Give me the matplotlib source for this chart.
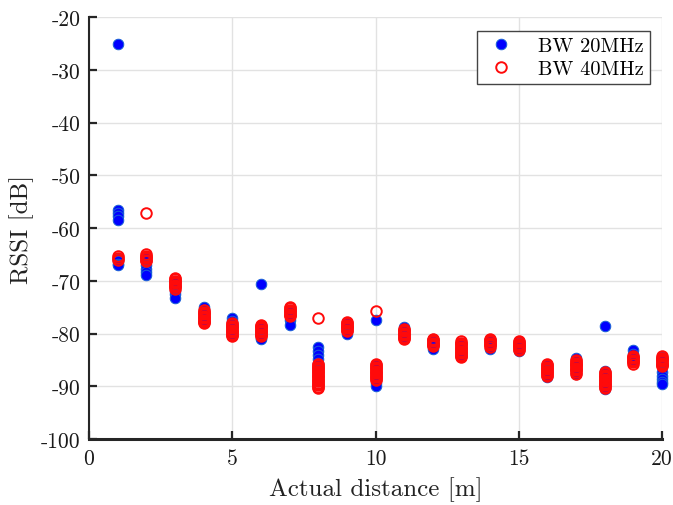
import matplotlib
matplotlib.use("Agg")
import matplotlib.pyplot as plt
import numpy as np

# measured RSSI per distance, 20 MHz bandwidth
distances = [1, 2, 3, 4, 5, 6, 7, 8, 9, 10, 11, 12, 13, 14, 15, 16, 17, 18, 19, 20]
rssi_20 = [
    [-25.2, -56.5, -57.2, -57.8, -58.5, -65.8, -66.3, -66.8, -67.0],
    [-65.5, -66.3, -67.0, -67.7, -68.3, -69.0],
    [-70.0, -71.0, -72.0, -72.6, -73.2],
    [-75.0, -75.5, -76.2, -77.0, -77.8],
    [-77.0, -77.6, -78.5, -79.5, -80.2],
    [-70.6, -78.8, -79.5, -80.2, -80.8, -81.1],
    [-75.5, -76.5, -77.5, -78.3],
    [-82.6, -83.3, -84.0, -84.8, -85.5, -86.3, -87.0, -88.0, -89.0],
    [-78.0, -78.8, -79.5, -80.1],
    [-77.4, -86.0, -87.5, -88.5, -89.3, -89.9],
    [-78.7, -79.3, -80.0, -80.6],
    [-81.0, -81.8, -82.4, -82.9],
    [-81.8, -82.8, -83.8, -84.3],
    [-81.5, -82.2, -83.0],
    [-81.8, -82.6, -83.4],
    [-86.0, -87.0, -88.2],
    [-84.6, -85.8, -87.0, -87.7],
    [-78.6, -87.2, -88.3, -89.5, -90.5],
    [-83.2, -83.8, -84.5, -85.2],
    [-84.5, -86.0, -87.3, -88.0, -88.6, -89.2, -89.6],
]

# measured RSSI per distance, 40 MHz bandwidth
rssi_40 = [
    [-65.4, -65.7, -66.0],
    [-57.1, -65.0, -65.25, -65.5, -65.75, -66.0, -66.25],
    [-69.5, -69.75, -70.0, -70.25, -70.5, -70.75, -71.0, -71.25, -71.5],
    [-75.6, -75.85, -76.1, -76.35, -76.6, -76.85, -77.1, -77.35, -77.6, -77.85, -78.1],
    [-78.0, -78.25, -78.5, -78.75, -79.0, -79.25, -79.5, -79.75, -80.0, -80.25, -80.5],
    [-78.3, -78.55, -78.8, -79.05, -79.3, -79.55, -79.8, -80.05, -80.3, -80.5],
    [-75.0, -75.25, -75.5, -75.75, -76.0, -76.25, -76.5, -76.7],
    [-77.1, -85.8, -86.05, -86.3, -86.55, -86.8, -87.05, -87.3, -87.55, -87.8, -88.05,
     -88.3, -88.55, -88.8, -89.05, -89.3, -89.55, -89.8, -90.05, -90.3],
    [-77.8, -78.05, -78.3, -78.55, -78.8, -79.05, -79.3, -79.5],
    [-75.8, -85.8, -86.05, -86.3, -86.55, -86.8, -87.05, -87.3, -87.55, -87.8, -88.05,
     -88.3, -88.55, -88.8],
    [-79.1, -79.35, -79.6, -79.85, -80.1, -80.35, -80.6, -80.85, -81.0],
    [-81.0, -81.25, -81.5, -81.75, -82.0, -82.25, -82.4],
    [-81.5, -81.75, -82.0, -82.25, -82.5, -82.75, -83.0, -83.25, -83.5, -83.75, -84.0,
     -84.25, -84.4],
    [-81.0, -81.25, -81.5, -81.75, -82.0, -82.25, -82.6],
    [-81.4, -81.65, -81.9, -82.15, -82.4, -82.65, -82.9, -83.2],
    [-85.8, -86.05, -86.3, -86.55, -86.8, -87.05, -87.3, -87.55, -87.8, -88.1],
    [-85.0, -85.25, -85.5, -85.75, -86.0, -86.25, -86.5, -86.75, -87.0, -87.25, -87.6],
    [-87.3, -87.55, -87.8, -88.05, -88.3, -88.55, -88.8, -89.05, -89.3, -89.55, -89.8,
     -90.05, -90.3],
    [-84.2, -84.45, -84.7, -84.95, -85.2, -85.45, -85.8],
    [-84.3, -84.55, -84.8, -85.05, -85.3, -85.55, -85.8, -86.05, -86.2],
]

x_ticks = [0, 5, 10, 15, 20]
y_ticks = [-100, -90, -80, -70, -60, -50, -40, -30, -20]

plt.rcParams['font.family'] = 'cmr10'
plt.rcParams['mathtext.fontset'] = 'cm'
plt.rcParams['axes.unicode_minus'] = False
plt.rcParams['axes.formatter.use_mathtext'] = True

fig = plt.figure(figsize=(6.73, 5.06), dpi=100)
ax = fig.add_axes([89/673, 66/506, 573/673, 422/506])

x20 = [d for d, vals in zip(distances, rssi_20) for _ in vals]
y20 = [v for vals in rssi_20 for v in vals]
x40 = [d for d, vals in zip(distances, rssi_40) for _ in vals]
y40 = [v for vals in rssi_40 for v in vals]

ax.plot(x20, y20, 'o', ls='none', ms=7.6, mfc='#0000ff', mec='#1a62d6', mew=0.7,
        label='BW 20MHz', clip_on=False, zorder=3)
ax.plot(x40, y40, 'o', ls='none', ms=7.6, mfc='none', mec='#ff0a0a', mew=1.4,
        label='BW 40MHz', clip_on=False, zorder=4)

ax.set_xlim(0, 20)
ax.set_ylim(-100, -20)
ax.set_xticks(x_ticks)
ax.set_yticks(y_ticks)
ax.set_xticklabels([str(t) for t in x_ticks])
ax.set_yticklabels([str(t) for t in y_ticks])
ax.tick_params(direction='in', length=6, width=1.6, colors='#262626', labelsize=15.5,
               labelcolor='#1a1a1a')
ax.tick_params(axis='y', pad=6)
ax.tick_params(axis='x', pad=7)
ax.grid(True, color='#e2e2e2', lw=1.0, zorder=0)
ax.set_axisbelow(True)

for side in ['top', 'right']:
    ax.spines[side].set_visible(False)
ax.spines['left'].set_linewidth(1.5)
ax.spines['left'].set_color('#262626')
ax.spines['bottom'].set_linewidth(2.2)
ax.spines['bottom'].set_color('#262626')

ax.set_xlabel('Actual distance [m]', fontsize=18, color='#222222', labelpad=6)
ax.set_ylabel('RSSI [dB]', fontsize=18, color='#222222', labelpad=5)

leg = ax.legend(loc='upper right', bbox_to_anchor=(0.979, 0.967), borderaxespad=0,
                fontsize=14.7, frameon=True, fancybox=False, edgecolor='#444444',
                framealpha=1, borderpad=0.3, handletextpad=0.9, labelspacing=0.2,
                handlelength=1.8)
leg.get_frame().set_linewidth(1.0)

fig.savefig('out.png', dpi=100)
